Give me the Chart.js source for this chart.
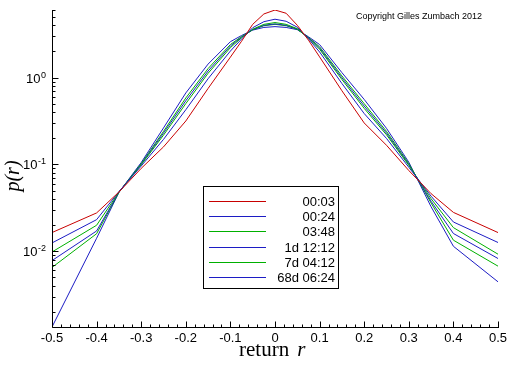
<!DOCTYPE html>
<html>
<head>
<meta charset="utf-8">
<script src="https://cdn.jsdelivr.net/npm/chart.js@4.4.0/dist/chart.umd.min.js"></script>
<style>
  html, body { margin: 0; padding: 0; background: #fff; }
</style>
</head>
<body>
<canvas id="pdfChart" width="512" height="366"></canvas>
<script>
// return values r (x positions of the samples)
const returns = [-0.5, -0.4, -0.35, -0.3, -0.25, -0.2, -0.15, -0.1, -0.075, -0.05, -0.025, 0,
                 0.025, 0.05, 0.075, 0.1, 0.15, 0.2, 0.25, 0.3, 0.35, 0.4, 0.5];

const seriesLabels = ['00:03', '00:24', '03:48', '1d 12:12', '7d 04:12', '68d 06:24'];
const seriesColors = ['#c80000', '#1c1cc4', '#00b000', '#1c1cc4', '#00b000', '#1c1cc4'];

// p(r) for each time horizon
const p0003 = [0.0164, 0.0276, 0.048, 0.09, 0.159, 0.316, 0.75, 1.72, 2.62, 4.1, 5.4, 6.0,
               5.5, 4.0, 2.7, 1.73, 0.705, 0.30, 0.166, 0.085, 0.046, 0.028, 0.0164];
const p0024 = [0.01245, 0.0231, 0.0485, 0.0957, 0.194, 0.426, 0.97, 2.02, 2.78, 3.75, 4.4, 4.7,
               4.45, 3.8, 2.8, 1.97, 0.855, 0.385, 0.199, 0.0927, 0.043, 0.0217, 0.0126];
const p0348 = [0.0098, 0.0199, 0.048, 0.099, 0.217, 0.501, 1.12, 2.21, 2.88, 3.6, 4.1, 4.3,
               4.1, 3.65, 2.85, 2.12, 0.95, 0.442, 0.219, 0.0975, 0.0402, 0.0187, 0.00924];
const p1d = [0.0078, 0.0171, 0.0478, 0.1005, 0.229, 0.541, 1.19, 2.31, 2.92, 3.57, 4.0, 4.15,
             4.0, 3.62, 2.88, 2.19, 0.995, 0.47, 0.229, 0.0995, 0.0376, 0.016, 0.00824];
const p7d = [0.0065, 0.0159, 0.0476, 0.102, 0.240, 0.582, 1.27, 2.40, 2.97, 3.55, 3.95, 4.1,
             3.95, 3.6, 2.90, 2.26, 1.045, 0.50, 0.240, 0.102, 0.0359, 0.0134, 0.00673];
const p68d = [0.00134, 0.0141, 0.0475, 0.105, 0.263, 0.665, 1.43, 2.59, 3.05, 3.52, 3.78, 3.86,
              3.78, 3.56, 2.95, 2.4, 1.14, 0.56, 0.26, 0.106, 0.0325, 0.0114, 0.00444];

const seriesValues = [p0003, p0024, p0348, p1d, p7d, p68d];

// axis ticks
const xTicks = [-0.5, -0.4, -0.3, -0.2, -0.1, 0, 0.1, 0.2, 0.3, 0.4, 0.5];
const xTickLabels = ['-0.5', '-0.4', '-0.3', '-0.2', '-0.1', '0', '0.1', '0.2', '0.3', '0.4', '0.5'];
const yTicks = [1, 0.1, 0.01];
const yTickExponents = ['0', '-1', '-2'];

const datasets = seriesLabels.map((name, i) => ({
  label: name,
  data: returns.map((r, j) => ({ x: r, y: seriesValues[i][j] })),
  borderColor: seriesColors[i],
  borderWidth: 1,
  pointRadius: 0,
  fill: false,
  tension: 0
}));

// draws the axes, ticks, labels, legend box and note
const decorPlugin = {
  id: 'decor',
  afterDraw(chart) {
    const ctx = chart.ctx;
    const area = chart.chartArea;
    const xs = chart.scales.x;
    const ys = chart.scales.y;
    ctx.save();
    ctx.strokeStyle = '#000';
    ctx.fillStyle = '#000';
    ctx.lineWidth = 1;

    const left = Math.round(area.left) + 0.5;
    const bottom = Math.round(area.bottom) + 0.5;

    ctx.beginPath();
    ctx.moveTo(left, Math.round(area.top));
    ctx.lineTo(left, bottom);
    ctx.lineTo(Math.round(area.right) + 1, bottom);
    ctx.stroke();

    // x minor + major ticks (inward)
    ctx.beginPath();
    for (let i = 0; i <= 50; i++) {
      const v = -0.5 + i * 0.02;
      const px = Math.round(xs.getPixelForValue(v)) + 0.5;
      const len = (i % 5 === 0) ? 6 : 3;
      ctx.moveTo(px, bottom);
      ctx.lineTo(px, bottom - len);
    }
    // y ticks (log)
    for (let d = -3; d <= 0; d++) {
      for (let m = 1; m <= 9; m++) {
        const v = m * Math.pow(10, d);
        if (v < ys.min || v > ys.max) continue;
        const py = Math.round(ys.getPixelForValue(v)) + 0.5;
        const len = (m === 1) ? 6 : 3;
        ctx.moveTo(left, py);
        ctx.lineTo(left + len, py);
      }
    }
    ctx.stroke();

    // x tick labels
    ctx.font = '13px "Liberation Sans", Arial, sans-serif';
    ctx.textAlign = 'center';
    ctx.textBaseline = 'alphabetic';
    xTicks.forEach((v, i) => {
      ctx.fillText(xTickLabels[i], xs.getPixelForValue(v), bottom + 14);
    });

    // y tick labels 10^n
    yTicks.forEach((v, i) => {
      const py = ys.getPixelForValue(v);
      ctx.font = '9px "Liberation Sans", Arial, sans-serif';
      const ew = ctx.measureText(yTickExponents[i]).width;
      const right = 46;
      ctx.textAlign = 'right';
      ctx.fillText(yTickExponents[i], right, py);
      ctx.font = '13px "Liberation Sans", Arial, sans-serif';
      ctx.fillText('10', right - ew - 0.5, py + 5);
    });

    // axis titles
    ctx.textAlign = 'left';
    ctx.font = '21px "Liberation Serif", "Times New Roman", serif';
    const w1 = ctx.measureText('return').width;
    const xTitleStart = 239;
    ctx.fillText('return', xTitleStart, 356);
    ctx.font = 'italic 21px "Liberation Serif", "Times New Roman", serif';
    ctx.fillText('r', xTitleStart + w1 + 8, 356);

    ctx.save();
    ctx.translate(19, 176);
    ctx.rotate(-Math.PI / 2);
    ctx.textAlign = 'center';
    ctx.font = 'italic 20px "Liberation Serif", "Times New Roman", serif';
    ctx.fillText('p(r)', 0, 0);
    ctx.restore();

    // copyright note
    ctx.font = '9px "Liberation Sans", Arial, sans-serif';
    ctx.textAlign = 'right';
    ctx.fillText('Copyright Gilles Zumbach 2012', 482, 19);

    // legend
    const boxL = 203.5, boxT = 186.5, boxR = 338.5, boxB = 288.5;
    ctx.fillStyle = '#fff';
    ctx.fillRect(boxL, boxT, boxR - boxL, boxB - boxT);
    ctx.strokeStyle = '#000';
    ctx.strokeRect(boxL, boxT, boxR - boxL, boxB - boxT);
    ctx.font = '13px "Liberation Sans", Arial, sans-serif';
    ctx.textAlign = 'right';
    ctx.textBaseline = 'middle';
    chart.data.datasets.forEach((ds, i) => {
      const rowY = Math.round(201 + i * 15.2) + 0.5;
      ctx.strokeStyle = ds.borderColor;
      ctx.beginPath();
      ctx.moveTo(209, rowY);
      ctx.lineTo(266, rowY);
      ctx.stroke();
      ctx.fillStyle = '#000';
      ctx.fillText(ds.label, 335, rowY + 1);
    });

    ctx.restore();
  }
};

const pdfCanvas = document.getElementById('pdfChart');

const pdfChart = new Chart(pdfCanvas, {
  type: 'line',
  data: { datasets: datasets },
  options: {
    responsive: false,
    animation: false,
    layout: { padding: { left: 52, right: 14, top: 10, bottom: 39 } },
    scales: {
      x: { type: 'linear', min: -0.5, max: 0.5, display: false },
      y: { type: 'logarithmic', min: 0.00134, max: 6.0, display: false }
    },
    plugins: {
      legend: { display: false },
      tooltip: { enabled: false }
    }
  },
  plugins: [decorPlugin]
});
</script>
</body>
</html>
